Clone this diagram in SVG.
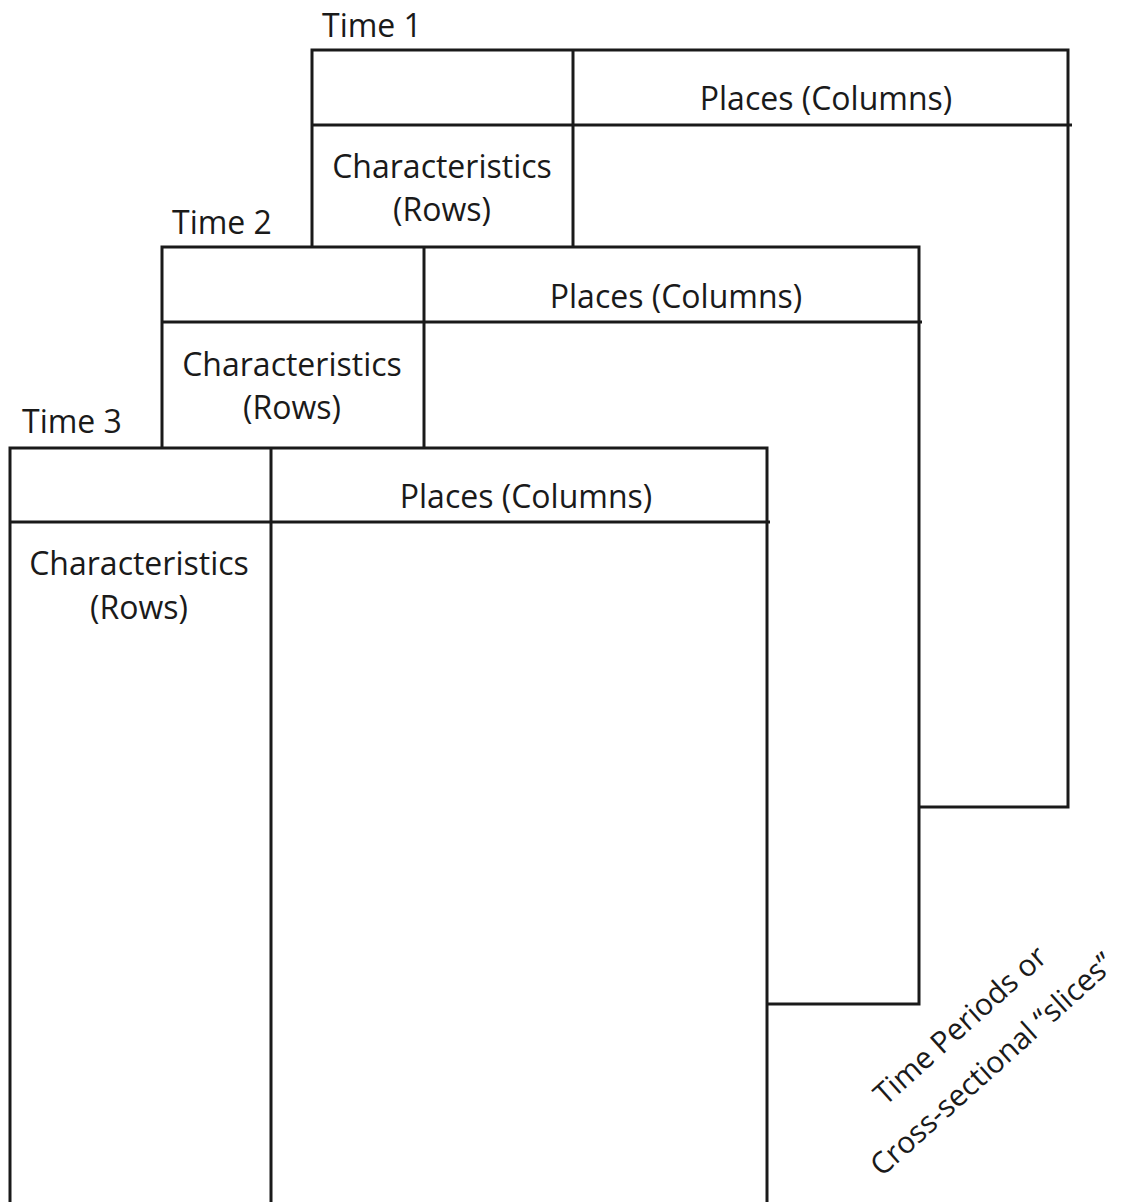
<svg xmlns="http://www.w3.org/2000/svg" width="1124" height="1202" viewBox="0 0 1124 1202">
<style>
  .frame{fill:#fff;stroke:#1a1a1a;stroke-width:3}
  .ln{stroke:#1a1a1a;stroke-width:3;fill:none}
  text{font-family:"Open Sans","Noto Sans",sans-serif;font-size:32px;fill:#1a1a1a}
  .c{text-anchor:middle}
  .rot{font-size:30px}
</style>
<rect width="1124" height="1202" fill="#fff"/>
<g id="time1">
  <text x="322" y="37">Time 1</text>
  <rect class="frame" x="312" y="50" width="756" height="757"/>
  <line class="ln" x1="312" y1="125" x2="1072" y2="125"/>
  <line class="ln" x1="573" y1="50" x2="573" y2="247"/>
  <text class="c" x="826" y="110">Places (Columns)</text>
  <text class="c" x="442" y="178">Characteristics</text>
  <text class="c" x="442" y="221">(Rows)</text>
</g>
<g id="time2">
  <text x="172" y="234">Time 2</text>
  <rect class="frame" x="162" y="247" width="757" height="757"/>
  <line class="ln" x1="162" y1="322" x2="922" y2="322"/>
  <line class="ln" x1="424" y1="247" x2="424" y2="447"/>
  <text class="c" x="676" y="308">Places (Columns)</text>
  <text class="c" x="292" y="376">Characteristics</text>
  <text class="c" x="292" y="419">(Rows)</text>
</g>
<g id="time3">
  <text x="22" y="433">Time 3</text>
  <rect class="frame" x="10" y="448" width="757" height="770"/>
  <line class="ln" x1="10" y1="522" x2="770" y2="522"/>
  <line class="ln" x1="271" y1="448" x2="271" y2="1202"/>
  <text class="c" x="526" y="508">Places (Columns)</text>
  <text class="c" x="139" y="575">Characteristics</text>
  <text class="c" x="139" y="619">(Rows)</text>
</g>
<g id="axis-label">
  <text class="c rot" transform="translate(967,1033) rotate(-42)">Time Periods or</text>
  <text class="c rot" transform="translate(999,1072) rotate(-42)">Cross-sectional “slices”</text>
</g>
<g id="connectors"/>
</svg>
